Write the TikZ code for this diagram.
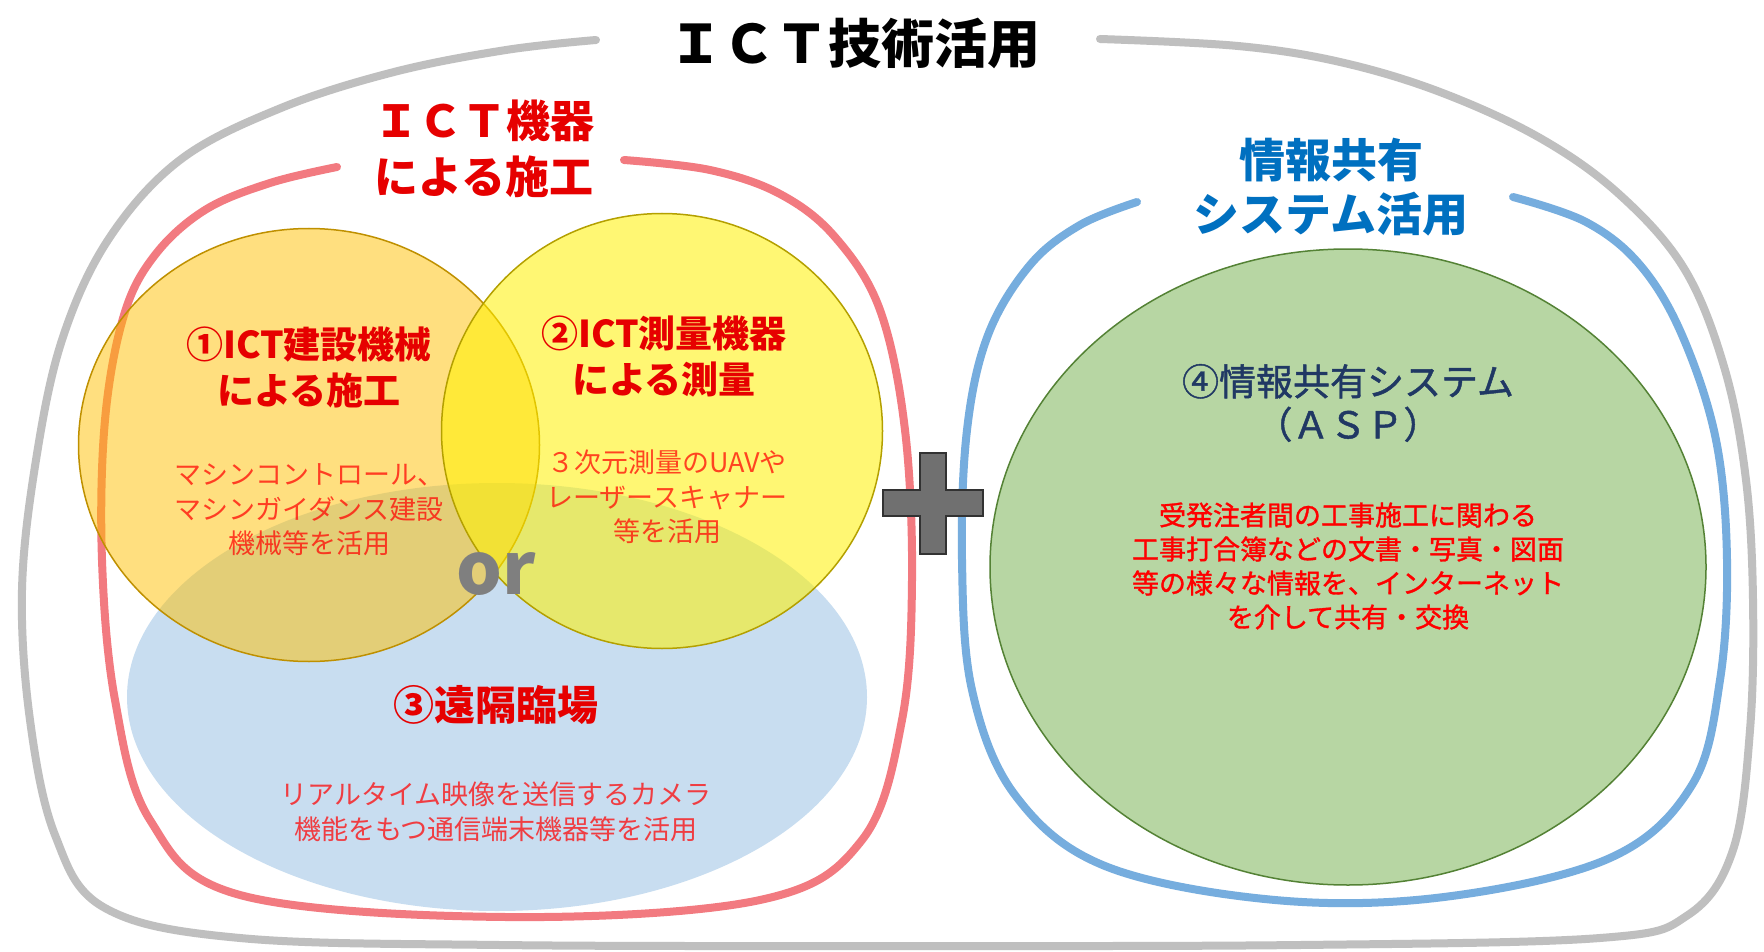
\documentclass[tikz,border=0pt]{standalone}
\usepackage{fontspec}
\setmainfont{Noto Sans CJK JP}
\newfontfamily\jpmed{Noto Sans CJK JP}[FakeBold=1.2]
\usetikzlibrary{shapes.geometric}
\definecolor{grayline}{RGB}{191,191,191}
\definecolor{redline}{RGB}{242,122,128}
\definecolor{blueline}{RGB}{118,173,222}
\definecolor{orangefill}{RGB}{255,192,0}
\definecolor{orangeedge}{RGB}{191,144,0}
\definecolor{yellowedge}{RGB}{180,160,0}
\definecolor{bluefill}{RGB}{200,221,240}
\definecolor{greenfill}{RGB}{183,214,163}
\definecolor{greenedge}{RGB}{84,130,53}
\definecolor{plusfill}{RGB}{112,112,112}
\definecolor{plusedge}{RGB}{50,50,50}
\definecolor{ortext}{RGB}{127,127,127}
\definecolor{redtxt}{RGB}{230,0,0}
\definecolor{bluetxt}{RGB}{0,112,192}
\definecolor{navytxt}{RGB}{32,56,100}
\tikzset{
  outline/.style={line width=8pt, line cap=round},
  circ/.style={ellipse, inner sep=0pt},
  heading/.style={align=center, font=\fontsize{44}{56}\selectfont\bfseries},
  itemtitle/.style={align=center, text=redtxt, font=\fontsize{37}{46}\selectfont\bfseries},
  desc/.style={align=center, text=red, text opacity=0.72, font=\fontsize{27}{34.5}\selectfont},
}
\begin{document}
\begin{tikzpicture}[x=1pt,y=-1pt]
\useasboundingbox (0,0) rectangle (1764,952);
\fill[white] (0,0) rectangle (1764,952);

% outer gray outline
\draw[outline, grayline] plot[smooth, tension=0.6] coordinates {
 (596,40) (506,50) (394,72) (281,108) (180,160) (108,240) (62,340) (36,460) (22,590) (30,720) (55,835) (105,908) (240,938) (500,945) (900,946) (1300,945) (1600,938) (1688,915) (1733,850) (1750,730) (1753,600) (1746,480) (1725,370) (1685,270) (1620,195) (1540,138) (1440,92) (1340,62) (1238,46) (1100,39)};

% red outline
\draw[outline, redline] plot[smooth, tension=0.6] coordinates {
 (337,167) (270,183) (205,210) (155,255) (124,315) (105,420) (102,560) (115,700) (150,820) (240,895) (506,917) (760,900) (862,840) (902,720) (912,580) (905,430) (880,310) (835,237) (780,194) (710,170) (624,160)};

% blue outline
\draw[outline, blueline] plot[smooth, tension=0.6] coordinates {
 (1137,202) (1080,225) (1030,265) (988,335) (967,430) (962,560) (972,690) (1015,795) (1105,866) (1275,900) (1444,897) (1610,858) (1692,785) (1720,680) (1727,560) (1716,440) (1682,335) (1640,265) (1586,222) (1513,197)};

% blue ellipse (3)
\node[circ, fill=bluefill, minimum width=740pt, minimum height=428pt] (e3) at (497,697) {};
% orange circle (1)
\node[circ, fill=orangefill, fill opacity=0.5, draw=orangeedge, line width=1.5pt, minimum width=461pt, minimum height=433pt] (c1) at (309,445) {};
% yellow circle (2)
\node[circ, fill=yellow, fill opacity=0.55, draw=yellowedge, line width=1.5pt, minimum width=441pt, minimum height=435pt] (c2) at (662,431) {};
% green circle (4)
\node[circ, fill=greenfill, draw=greenedge, line width=1.5pt, minimum width=716pt, minimum height=636pt] (c4) at (1348,567) {};

% plus sign
\draw[fill=plusfill, draw=plusedge, line width=1.5pt]
  (920,453) -- (946,453) -- (946,490) -- (983,490) -- (983,516) -- (946,516) -- (946,554) -- (920,554) -- (920,516) -- (883,516) -- (883,490) -- (920,490) -- cycle;

% "or"
\node[text=ortext, font=\fontsize{72}{72}\selectfont\bfseries] (or) at (496,574) {or};

% headings
\node[font=\fontsize{53}{60}\selectfont\bfseries] (title) at (855,43) {ＩＣＴ技術活用};
\node[heading, text=redtxt] (h1) at (484,149) {ＩＣＴ機器\\による施工};
\node[heading, text=bluetxt, font=\fontsize{46}{54}\selectfont\bfseries] (h2) at (1331,187) {情報共有\\システム活用};

% item 1
\node[itemtitle] (t1) at (309,367) {①ICT建設機械\\による施工};
\node[desc] (d1) at (309,510) {マシンコントロール、\\マシンガイダンス建設\\機械等を活用};
% item 2
\node[itemtitle] (t2) at (664,357) {②ICT測量機器\\による測量};
\node[desc] (d2) at (667,497) {３次元測量のUAVや\\レーザースキャナー\\等を活用};
% item 3
\node[itemtitle, font=\fontsize{41}{46}\selectfont\bfseries] (t3) at (496,705) {③遠隔臨場};
\node[desc] (d3) at (496,812) {リアルタイム映像を送信するカメラ\\機能をもつ通信端末機器等を活用};
% item 4
\node[align=center, text=navytxt, font=\fontsize{37}{43}\selectfont\jpmed] (t4) at (1348,403) {④情報共有システム\\（ＡＳＰ）};
\node[align=center, text=red, font=\fontsize{27}{34}\selectfont\jpmed] (d4) at (1348,566) {受発注者間の工事施工に関わる\\工事打合簿などの文書・写真・図面\\等の様々な情報を、インターネット\\を介して共有・交換};
\end{tikzpicture}
\end{document}
